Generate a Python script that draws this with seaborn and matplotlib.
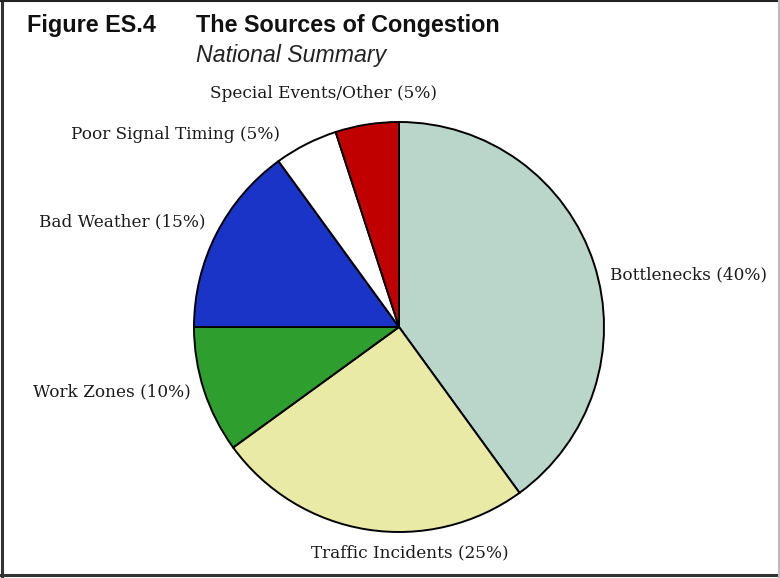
import matplotlib
matplotlib.use("Agg")
import matplotlib.pyplot as plt
from matplotlib.lines import Line2D
import seaborn as sns

# data
sources = ["Bottlenecks", "Traffic Incidents", "Work Zones",
           "Bad Weather", "Poor Signal Timing", "Special Events/Other"]
shares = [40, 25, 10, 15, 5, 5]
colors = ["#BAD6CB", "#E8EAA5", "#2E9F2E", "#1A34C8", "#FFFFFF", "#C00000"]

sns.set_theme(style="white")
plt.rcParams['font.family'] = ['DejaVu Serif']

fig = plt.figure(figsize=(7.8, 5.78), dpi=100)
fig.patch.set_facecolor("white")

# pie axes: centre ~ (399, 327) px, radius ~205 px
ax = fig.add_axes([194 / 780, (578 - 327 - 205) / 578, 410 / 780, 410 / 578])
labels = [f"{s} ({v}%)" for s, v in zip(sources, shares)]
wedges, texts = ax.pie(
    shares,
    labels=labels,
    colors=colors,
    startangle=90,
    counterclock=False,
    wedgeprops=dict(edgecolor="black", linewidth=1.4),
    textprops=dict(fontsize=12.2, color="#1a1a1a"),
)
ax.set_xlim(-1, 1)
ax.set_ylim(-1, 1)
ax.set_aspect("equal")

# label placement like the original figure
label_pos = [(1.03, 0.254, "left"), (0.054, -1.102, "center"),
             (-1.015, -0.317, "right"), (-0.946, 0.512, "right"),
             (-0.58, 0.941, "right"), (-0.37, 1.141, "center")]
for t, (x, y, ha) in zip(texts, label_pos):
    t.set_position((x, y))
    t.set_ha(ha)
    t.set_va("center")

# titles
fig.text(27 / 780, 1 - 32 / 578, "Figure ES.4", fontsize=16.8, fontweight="bold",
         family="Liberation Sans", color="#111111")
fig.text(196 / 780, 1 - 32 / 578, "The Sources of Congestion", fontsize=16.8,
         fontweight="bold", family="Liberation Sans", color="#111111")
fig.text(196 / 780, 1 - 62 / 578, "National Summary", fontsize=16.7,
         style="italic", family="Liberation Sans", color="#222222")

# frame around the figure
fig.add_artist(Line2D([0.002, 0.002], [0, 1], color="#333333", lw=2.2, transform=fig.transFigure))
fig.add_artist(Line2D([0, 1], [0.999, 0.999], color="#222222", lw=1.5, transform=fig.transFigure))
fig.add_artist(Line2D([0, 1], [0.005, 0.005], color="#333333", lw=2.2, transform=fig.transFigure))
fig.add_artist(Line2D([0.999, 0.999], [0, 1], color="#BBBBBB", lw=1.5, transform=fig.transFigure))

fig.savefig("out.png", dpi=100)
